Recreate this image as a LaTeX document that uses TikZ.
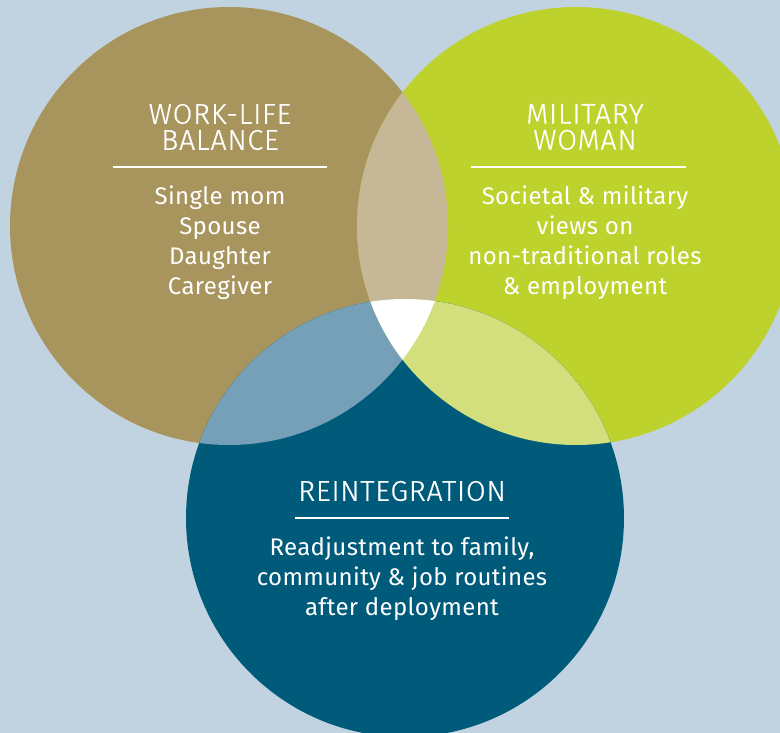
\documentclass[tikz,border=0pt]{standalone}
\usepackage{fontspec}
\setmainfont{Fira Sans}
\newfontfamily\headfont[LetterSpace=3,FakeBold=0.6]{Fira Sans Light}
\newfontfamily\itemfont[LetterSpace=1.5]{Fira Sans}
\definecolor{paleblue}{HTML}{C1D3E0}
\definecolor{worktan}{HTML}{A8955E}
\definecolor{militarylime}{HTML}{BDD22C}
\definecolor{reintteal}{HTML}{005B7B}
\definecolor{tanlime}{HTML}{C6B896}
\definecolor{tanteal}{HTML}{769FB8}
\definecolor{limeteal}{HTML}{D3DE7D}
\begin{document}
\begin{tikzpicture}[x=1pt, y=-1pt,
  every node/.style = {text=white, align=center, inner sep=0pt},
  heading/.style = {font=\headfont\fontsize{28.5}{26}\selectfont},
  items/.style = {font=\itemfont\fontsize{24}{30}\selectfont},
  rule/.style = {draw=white, line width=2pt}]
  \fill[paleblue] (0,0) rectangle (780,733);
  \clip (0,0) rectangle (780,733);
  \coordinate (work) at (229,226);
  \coordinate (military) at (576,226);
  \coordinate (reint) at (405,518);
  \fill[worktan] (work) circle[radius=219];
  \fill[militarylime] (military) circle[radius=219];
  \fill[reintteal] (reint) circle[radius=219];
  \begin{scope}
    \clip (work) circle[radius=219];
    \fill[tanlime] (military) circle[radius=219];
    \fill[tanteal] (reint) circle[radius=219];
  \end{scope}
  \begin{scope}
    \clip (military) circle[radius=219];
    \fill[limeteal] (reint) circle[radius=219];
    \clip (work) circle[radius=219];
    \fill[white] (reint) circle[radius=219];
  \end{scope}
  % work-life balance
  \node[heading] (workhead) at (220,127) {WORK-LIFE\\BALANCE};
  \draw[rule] (113,167) coordinate (workl) -- (327,167) coordinate (workr);
  \node[items] (workitems) at (220,243) {Single mom\\Spouse\\Daughter\\Caregiver};
  % military woman
  \node[heading] (milhead) at (585,127) {MILITARY\\WOMAN};
  \draw[rule] (471,167) coordinate (mill) -- (686,167) coordinate (milr);
  \node[items] (milits) at (585,243) {Societal \& military\\views on\\non-traditional roles\\\& employment};
  % reintegration
  \node[heading] (reinthead) at (402,491) {REINTEGRATION};
  \draw[rule] (295,518) coordinate (reintl) -- (509,518) coordinate (reintr);
  \node[items] (reintitems) at (402,579) {Readjustment to family,\\community \& job routines\\after deployment};
\end{tikzpicture}
\end{document}
